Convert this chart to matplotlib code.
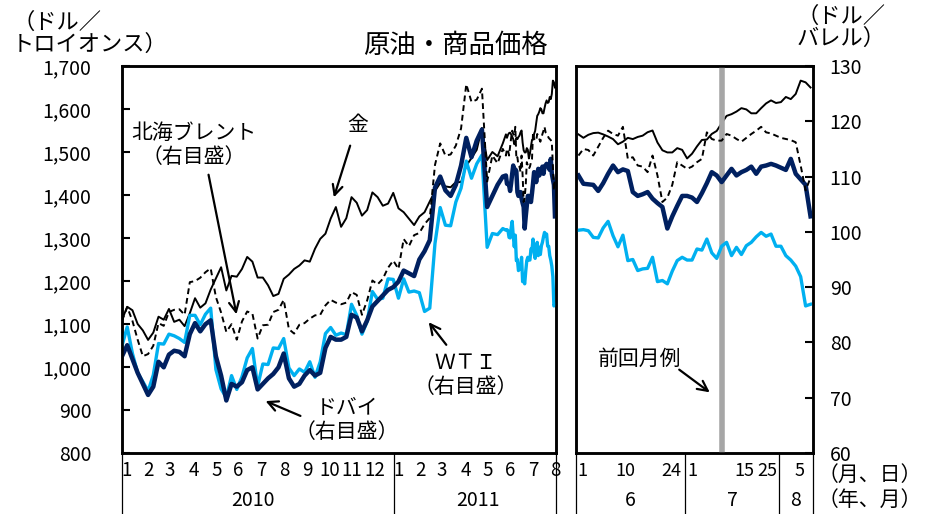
import numpy as np
import pandas as pd
import matplotlib
matplotlib.use('Agg')
from matplotlib import pyplot as plt

# 日本語フォント（足りない字は DejaVu で補う）
plt.rcParams['font.family'] = ['Noto Sans CJK JP', 'DejaVu Sans']

W, H = 932, 514

# 週次（金曜）2010/1/1 - 2011/5/27
week_dates = pd.date_range('2010-01-01', '2011-05-27', freq='W-FRI')
gold_w = [1110, 1140, 1132, 1100, 1085,
          1063, 1080, 1117, 1110,
          1135, 1105, 1110, 1095,
          1125, 1160, 1138, 1148, 1180,
          1206, 1232, 1178, 1212,
          1210, 1228, 1256, 1245,
          1208, 1208, 1190, 1165, 1170,
          1205, 1215, 1228, 1236,
          1248, 1245, 1275, 1298,
          1310, 1345, 1372, 1326, 1346,
          1395, 1382, 1352, 1365,
          1406, 1395, 1375, 1380, 1405,
          1369, 1360, 1345, 1330,
          1350, 1360, 1385, 1409,
          1428, 1420, 1418, 1430,
          1430, 1468, 1486, 1505, 1556,
          1481, 1500, 1490, 1520]
brent_w = [83.9, 86.4, 83.9, 80.5, 77.5,
           77.9, 79.4, 83.5, 83.0,
           85.5, 85.9, 86.0, 85.0,
           90.9, 91.1, 91.7, 92.7, 93.4,
           88.2, 85.4, 81.9, 83.3,
           80.5, 83.8, 85.6, 85.2,
           80.7, 83.1, 83.2, 85.5, 85.9,
           87.7, 82.4, 81.6, 83.2,
           83.5, 84.3, 84.9, 85.0,
           86.7, 87.7, 87.2, 86.9, 87.2,
           89.1, 88.6, 85.0, 87.6,
           91.2, 90.5, 91.5, 93.5, 94.8,
           93.3, 98.7, 97.4, 99.4,
           99.8, 101.4, 102.5, 112.1,
           116.0, 113.8, 114.0, 115.6,
           118.7, 126.7, 123.5, 123.9, 125.9,
           109.1, 113.8, 112.4, 115.0]
dubai_w = [77.5, 79.5, 77.0, 74.5, 72.5,
           70.5, 72.0, 76.5, 75.5,
           77.8, 78.5, 78.3, 77.5,
           81.5, 83.5, 82.0, 83.3, 84.0,
           77.5, 74.0, 69.5, 72.5,
           72.0, 72.8, 75.0, 75.5,
           71.5, 72.5, 73.5, 74.3, 75.5,
           78.0, 73.5, 72.0, 72.5,
           74.0, 75.0, 74.0, 74.5,
           79.0, 81.0, 80.5, 80.5, 81.0,
           85.0, 84.5, 82.0, 84.0,
           86.5, 87.5, 88.5, 89.5, 90.0,
           91.0, 93.0, 92.5, 92.0,
           95.0, 96.5, 98.5, 108.0,
           110.0, 107.5, 106.5, 108.5,
           112.0, 117.0, 113.5, 116.5, 118.5,
           104.5, 106.5, 108.5, 110.0]
wti_w = [79.4, 82.8, 78.0, 74.5, 72.9,
         71.2, 74.1, 79.8, 79.7,
         81.5, 81.2, 80.7, 80.0,
         84.9, 84.9, 83.2, 85.1, 86.2,
         75.1, 71.6, 70.0, 74.0,
         71.5, 73.8, 77.2, 78.9,
         72.1, 76.1, 76.0, 79.0, 78.9,
         80.7, 75.4, 74.0, 75.2,
         74.6, 76.5, 73.7, 76.5,
         81.6, 82.7, 81.3, 81.7, 81.4,
         86.9, 84.9, 81.5, 83.8,
         89.2, 87.8, 88.0, 91.5, 91.4,
         88.0, 91.5, 89.1, 89.3,
         89.0, 85.6, 86.2, 97.9,
         104.4, 101.2, 101.1, 105.4,
         107.9, 112.8, 109.7, 112.3, 113.9,
         97.2, 99.7, 99.5, 100.6]

# 日次 2011/6/1 - 8/5
day_dates = pd.bdate_range('2011-06-01', '2011-08-05')
gold_d = [1541, 1533, 1540, 1544, 1545, 1541, 1536, 1530, 1518, 1524, 1533,
          1530, 1535, 1538, 1546, 1550, 1522, 1504, 1499, 1499, 1509, 1505,
          1485, 1496, 1513, 1528, 1529, 1542, 1549, 1567, 1584, 1588, 1594,
          1602, 1599, 1590, 1590, 1602, 1613, 1620, 1614, 1616, 1628,
          1623, 1635, 1666, 1662, 1650]
brent_d = [113.8, 115.0, 114.8, 113.8, 115.4, 117.0, 118.3, 117.7, 117.4, 119.0, 113.2,
           113.5, 112.0, 111.8, 110.8, 113.8, 110.2, 105.4, 106.2, 108.5, 112.6, 112.0,
           111.4, 111.8, 112.6, 113.2, 118.0, 116.8, 116.5, 116.5, 117.7, 117.4, 116.8,
           116.3, 117.0, 117.7, 118.3, 119.0, 118.0, 117.8, 117.4, 117.0, 116.8,
           116.6, 116.2, 112.0, 107.5, 109.8]
dubai_d = [110.2, 108.7, 108.6, 108.5, 107.4, 108.8, 110.5, 112.0, 110.8, 111.3, 111.0,
           107.2, 106.5, 106.8, 107.2, 106.0, 105.2, 104.5, 100.6, 102.8, 104.7, 106.5,
           106.5, 106.2, 105.4, 107.0, 108.8, 110.8, 110.2, 109.0, 110.2, 111.4, 110.2,
           110.8, 111.2, 111.8, 110.5, 111.8, 112.0, 112.3, 112.0, 111.6, 111.2,
           113.2, 110.5, 109.5, 108.5, 102.8]
wti_d = [100.3, 100.4, 100.2, 99.0, 98.9, 100.7, 101.9, 99.3, 97.3, 99.4, 94.8,
         95.0, 93.0, 93.3, 93.4, 95.4, 91.0, 91.2, 90.6, 92.9, 94.8, 95.4,
         94.9, 94.9, 96.9, 96.7, 98.7, 96.2, 95.2, 97.4, 98.1, 95.7, 97.2,
         95.9, 97.5, 98.1, 99.1, 99.9, 99.2, 99.6, 97.4, 97.4, 95.7,
         94.9, 93.8, 91.9, 86.6, 86.9]

month_labels = ['1', '2', '3', '4', '5', '6', '7', '8', '9', '10', '11', '12',
                '1', '2', '3', '4', '5', '6', '7', '8']
month_starts = pd.date_range('2010-01-01', '2011-08-01', freq='MS')
year_labels = ['2010', '2011']

# 右パネルの目盛ラベル（日）と位置（日次の番号）
day_labels = ['1', '10', '24', '1', '15', '25', '5']
day_pos = [0.7, 9.6, 18.9, 23, 33.5, 38.3, 44.8]
mon_labels = ['6', '7', '8']
mon_pos = [10.4, 31.1, 44.0]
mon_seps = [-0.5, 21.5, 40.7]
prev_report = 29  # 前回月例

NAVY = '#002060'
LBLUE = '#00B0F0'

base = np.datetime64('2010-01-01')
xw = np.busday_count(base, week_dates.values.astype('datetime64[D]'))
xd = np.busday_count(base, day_dates.values.astype('datetime64[D]'))
x_all = np.concatenate([xw, xd])
gold_all = gold_w + gold_d
brent_all = brent_w + brent_d
dubai_all = dubai_w + dubai_d
wti_all = wti_w + wti_d


def box(x0, y0, x1, y1):
    return [x0 / W, 1 - y1 / H, (x1 - x0) / W, (y1 - y0) / H]


def ftext(x, y, s, **kw):
    fig.text(x / W, 1 - y / H, s, **kw)


def arrow(x0, y0, x1, y1):
    fig.add_artist(matplotlib.patches.FancyArrowPatch(
        (x0 / W, 1 - y0 / H), (x1 / W, 1 - y1 / H), transform=fig.transFigure,
        arrowstyle='->', mutation_scale=18, lw=1.6, color='black'))


fig = plt.figure(figsize=(W / 100, H / 100), dpi=100)

ax = fig.add_axes(box(122, 66, 556, 453))
ax2 = ax.twinx()
axr = fig.add_axes(box(576, 66, 813, 453))
axr2 = axr.twinx()

# 左パネル
ax.plot(x_all, gold_all, color='black', lw=1.4, zorder=4)
ax2.plot(x_all, wti_all, color=LBLUE, lw=2.4)
ax2.plot(x_all, dubai_all, color=NAVY, lw=3.2)
ax2.plot(x_all, brent_all, color='black', lw=1.4, ls=(0, (3, 2)))

# 右パネル
xi = np.arange(len(day_dates))
axr.plot(xi, gold_d, color='black', lw=1.4)
axr2.axvline(prev_report, color='#A6A6A6', lw=4, zorder=0)
axr2.plot(xi, wti_d, color=LBLUE, lw=2.4)
axr2.plot(xi, dubai_d, color=NAVY, lw=3.2)
axr2.plot(xi, brent_d, color='black', lw=1.4, ls=(0, (3, 2)))

xmax = np.busday_count(base, np.datetime64('2011-08-05')) + 1
for a in (ax, ax2):
    a.set_xlim(0, xmax)
for a in (axr, axr2):
    a.set_xlim(-0.5, len(day_dates) - 0.5)
for a in (ax, axr):
    a.set_ylim(800, 1700)
for a in (ax2, axr2):
    a.set_ylim(60, 130)

for a in (ax, ax2, axr, axr2):
    a.set_xticks([])
    for s in a.spines.values():
        s.set_linewidth(1.8)
        s.set_color('black')

ax.set_yticks(range(800, 1701, 100))
ax.set_yticklabels(['{:,}'.format(v) for v in range(800, 1701, 100)])
ax.tick_params(axis='y', direction='in', length=6, width=1.5, pad=22, labelsize=14)
ax2.set_yticks([])
axr.set_yticks([])
axr2.set_yticks(range(60, 131, 10))
axr2.tick_params(axis='y', direction='in', length=6, width=1.5, pad=12, labelsize=14)

# 下の目盛ラベルと区切り線
bot, hgt = 453, 387
yrow1, yrow2 = 471, 500
for lab, d in zip(month_labels, month_starts):
    first = np.busday_offset(np.datetime64(d.date()), 0, roll='forward')
    xx = np.busday_count(base, first) + 4.5
    ax.text(xx, -(yrow1 - bot) / hgt, lab, transform=ax.get_xaxis_transform(),
            ha='center', va='center', fontsize=13.5)
ysep = np.busday_count(base, np.datetime64('2011-01-01'))
for xx in (0, ysep, xmax):
    ax.plot([xx, xx], [0, -61 / hgt], transform=ax.get_xaxis_transform(),
            color='black', lw=0.9, clip_on=False)
for lab, xx in zip(year_labels, [ysep / 2 - 5, (ysep + xmax) / 2 + 3]):
    ax.text(xx, -(yrow2 - bot) / hgt, lab, transform=ax.get_xaxis_transform(),
            ha='center', va='center', fontsize=14)

for lab, xx in zip(day_labels, day_pos):
    axr.text(xx, -(yrow1 - bot) / hgt, lab, transform=axr.get_xaxis_transform(),
             ha='center', va='center', fontsize=13)
for lab, xx in zip(mon_labels, mon_pos):
    axr.text(xx, -(yrow2 - bot) / hgt, lab, transform=axr.get_xaxis_transform(),
             ha='center', va='center', fontsize=14)
for xx in mon_seps + [len(day_dates) - 0.5]:
    axr.plot([xx, xx], [0, -61 / hgt], transform=axr.get_xaxis_transform(),
             color='black', lw=0.9, clip_on=False)

# タイトル・単位
ftext(455, 45, '原油・商品価格', ha='center', va='center', fontsize=19)
ftext(12, 33, '（ドル／\nトロイオンス）', ha='left', va='center', fontsize=16,
      linespacing=0.95)
ftext(886, 27, '（ドル／\nバレル）', ha='right', va='center', fontsize=16,
      linespacing=0.95)
ftext(818, 475, '（月、日）', ha='left', va='center', fontsize=15)
ftext(818, 500, '（年、月）', ha='left', va='center', fontsize=15)

# 注記と矢印
ftext(194, 145, '北海ブレント\n（右目盛）', ha='center', va='center', fontsize=15,
      linespacing=1.15)
ftext(358, 125, '金', ha='center', va='center', fontsize=15)
ftext(466, 375, 'ＷＴＩ\n（右目盛）', ha='center', va='center', fontsize=15,
      linespacing=1.1)
ftext(347, 420, 'ドバイ\n（右目盛）', ha='center', va='center', fontsize=15,
      linespacing=1.1)
ftext(640, 359, '前回月例', ha='center', va='center', fontsize=15)

arrow(208, 172, 237, 317)
arrow(351, 143, 333, 200)
arrow(448, 347, 427, 320)
arrow(303, 417, 263, 400)
arrow(677, 368, 712, 394)

fig.savefig('out.png', dpi=100)
